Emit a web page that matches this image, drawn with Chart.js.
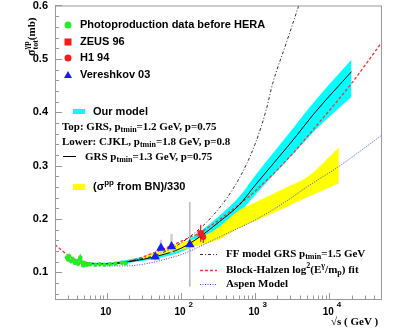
<!DOCTYPE html>
<html>
<head>
<meta charset="utf-8">
<script src="https://cdn.jsdelivr.net/npm/chart.js@4/dist/chart.umd.min.js"></script>
<style>html,body{margin:0;padding:0;background:#fff}</style>
</head>
<body>
<canvas id="c" width="415" height="332"></canvas>
<script>
// values: sqrt(s) in GeV, sigma in mb

// photoproduction data before HERA
const greenS   = [2.9, 3.0, 3.1, 3.3, 3.5, 3.7, 3.9, 4.1, 4.3, 4.4, 4.6, 4.8, 5.0, 5.3, 5.6, 6.0, 7.0, 8.0, 9.3, 11, 13, 16, 18];
const greenSig = [0.128, 0.124, 0.130, 0.121, 0.124, 0.118, 0.120, 0.116, 0.124, 0.128, 0.119, 0.113, 0.117, 0.114, 0.115, 0.115, 0.114, 0.115, 0.114, 0.115, 0.116, 0.118, 0.117];
const greenErr = [0.006, 0.005, 0.006, 0.005, 0.006, 0.004, 0.005, 0.005, 0.008, 0.007, 0.006, 0.004, 0.005, 0.004, 0.003, 0.003, 0.002, 0.002, 0.002, 0.002, 0.002, 0.003, 0.002];

// ZEUS 96, H1 94
const zeusS = [185], zeusSig = [0.173], zeusErr = [0.016];
const h1S = [200], h1Sig = [0.166], h1Err = [0.011];

// Vereshkov 03
const vereS   = [45, 53.7, 74.7, 132];
const vereSig = [0.129, 0.1456, 0.1486, 0.152];
const vereLo  = [0.122, 0.134, 0.136, 0.073];
const vereHi  = [0.138, 0.161, 0.172, 0.232];

// our model band and GRS ptmin=1.3 line
const modelS   = [5, 7, 10, 20, 50, 100, 195, 330, 614, 1000, 3000, 6670, 20000];
const modelLo  = [0.116, 0.114, 0.114, 0.118, 0.127, 0.138, 0.160, 0.184, 0.212, 0.245, 0.316, 0.368, 0.429];
const modelHi  = [0.119, 0.118, 0.118, 0.124, 0.136, 0.152, 0.180, 0.206, 0.242, 0.281, 0.364, 0.424, 0.499];
const grsSig   = [0.1176, 0.116, 0.116, 0.120, 0.131, 0.145, 0.170, 0.195, 0.2265, 0.263, 0.342, 0.402, 0.476];

// sigma(pp) from BN / 330
const bnS  = [30, 40, 60, 100, 195, 330, 614, 1000, 2625, 5130, 13500];
const bnLo = [0.124, 0.128, 0.133, 0.142, 0.152, 0.162, 0.183, 0.196, 0.222, 0.241, 0.267];
const bnHi = [0.128, 0.136, 0.144, 0.156, 0.167, 0.186, 0.217, 0.231, 0.259, 0.279, 0.334];

// FF model GRS ptmin=1.5
const ffS   = [5, 10, 20, 50, 100, 265, 577, 1000, 1410, 1730, 2625, 3880, 4500];
const ffSig = [0.1176, 0.116, 0.121, 0.134, 0.155, 0.205, 0.270, 0.340, 0.404, 0.454, 0.529, 0.600, 0.630];

// Block-Halzen log^2 fit
const bhS   = [2, 3, 4, 5, 7, 10, 20, 50, 100, 200, 500, 1000, 3000, 6670, 20000, 50000];
const bhSig = [0.152, 0.132, 0.123, 0.119, 0.116, 0.116, 0.121, 0.140, 0.158, 0.178, 0.218, 0.252, 0.318, 0.374, 0.454, 0.529];

// Aspen model
const aspenS   = [10, 18, 40, 76, 100, 160, 265, 450, 1000, 2625, 5000, 12400, 25000, 50000];
const aspenSig = [0.112, 0.112, 0.118, 0.128, 0.133, 0.145, 0.160, 0.175, 0.198, 0.233, 0.260, 0.295, 0.325, 0.356];

// axis ticks
const yMajor = [0.1, 0.2, 0.3, 0.4, 0.5, 0.6];
const yLabels = ["0.1", "0.2", "0.3", "0.4", "0.5", "0.6"];
const xMajor = [10, 100, 1000, 10000];
const xExp = ["", "2", "3", "4"];

const SANS = '"Liberation Sans", Arial, Helvetica, sans-serif';
const SERIF = '"Liberation Serif", "Times New Roman", serif';

function xy(xs, ys) {
  return xs.map((x, i) => ({ x: x, y: ys[i] }));
}

// text with sub/superscripts, parts = [text, kind] kind n / b (sub) / p (sup)
function rich(c, x, y, parts, size, fam) {
  parts.forEach(([t, k]) => {
    const sz = k === "n" ? size : Math.round(size * 0.72);
    const dy = k === "b" ? size * 0.3 : (k === "p" ? -size * 0.38 : 0);
    c.font = "bold " + sz + "px " + fam;
    c.fillText(t, x, y + dy);
    x += c.measureText(t).width;
  });
  return x;
}

const errorBars = {
  id: "errorBars",
  beforeDatasetDraw(chart, args) {
    const eb = chart.data.datasets[args.index].errBars;
    if (!eb) return;
    const xs = chart.scales.x, ys = chart.scales.y, c = chart.ctx;
    c.save();
    eb.s.forEach((s, i) => {
      const px = xs.getPixelForValue(s);
      c.strokeStyle = eb.color[i] || eb.color[0];
      c.lineWidth = eb.width[i] || eb.width[0];
      c.beginPath();
      c.moveTo(px, ys.getPixelForValue(eb.lo[i]));
      c.lineTo(px, ys.getPixelForValue(eb.hi[i]));
      c.stroke();
    });
    c.restore();
  }
};

const frame = {
  id: "frame",
  afterDraw(chart) {
    const c = chart.ctx, a = chart.chartArea;
    const xs = chart.scales.x, ys = chart.scales.y;
    c.save();
    c.strokeStyle = "#999";
    c.lineWidth = 1;
    c.strokeRect(a.left + 0.5, a.top + 0.5, a.right - a.left, a.bottom - a.top);

    // y ticks inside the frame
    c.beginPath();
    for (let v = 0.06; v < 0.601; v += 0.02) {
      const py = Math.round(ys.getPixelForValue(v)) + 0.5;
      const major = Math.abs(v * 10 - Math.round(v * 10)) < 1e-6;
      c.moveTo(a.left, py);
      c.lineTo(a.left + (major ? 7 : 4), py);
    }
    // x ticks
    for (let d = 1; d <= 10000; d *= 10) {
      for (let k = 1; k <= 9; k++) {
        const v = k * d;
        if (v < 2 || v > 50000) continue;
        const px = Math.round(xs.getPixelForValue(v)) + 0.5;
        c.moveTo(px, a.bottom);
        c.lineTo(px, a.bottom - (k === 1 ? 6 : 3.5));
      }
    }
    c.stroke();

    c.fillStyle = "#000";
    c.textBaseline = "middle";
    c.textAlign = "right";
    c.font = "bold 11px " + SANS;
    yMajor.forEach((v, i) => c.fillText(yLabels[i], 48, ys.getPixelForValue(v)));

    c.textAlign = "left";
    xMajor.forEach((v, i) => {
      const px = xs.getPixelForValue(v);
      c.font = "bold 10px " + SANS;
      const w = c.measureText("10").width;
      c.fillText("10", px - w / 2 - 1, 312);
      if (xExp[i]) {
        c.font = "bold 8px " + SANS;
        c.fillText(xExp[i], px + w / 2 + 2, 305);
      }
    });

    // axis titles
    c.font = "bold 11px " + SERIF;
    c.fillText("\u221As ( GeV )", 331, 322);

    c.save();
    c.translate(32, 56);
    c.rotate(-Math.PI / 2);
    c.font = "bold 12px " + SERIF;
    c.fillText("\u03C3", 0, 0);
    let tx = c.measureText("\u03C3").width;
    c.font = "bold 8px " + SERIF;
    c.fillText("tot", tx, 4);
    c.fillText("\u03B3p", tx, -5);
    tx += c.measureText("tot").width;
    c.font = "bold 11px " + SERIF;
    c.fillText("(mb)", tx, 0);
    c.restore();

    // legend, data markers
    c.fillStyle = "#22ee22";
    c.beginPath(); c.arc(68, 25, 3.5, 0, 2 * Math.PI); c.fill();
    c.fillStyle = "#ff1a1a";
    c.fillRect(64.5, 38.5, 7, 7);
    c.beginPath(); c.arc(68, 58, 3.5, 0, 2 * Math.PI); c.fill();
    c.fillStyle = "#1a1aff";
    c.beginPath(); c.moveTo(68, 71); c.lineTo(72, 78); c.lineTo(64, 78); c.closePath(); c.fill();

    c.fillStyle = "#000";
    c.font = "bold 11px " + SANS;
    c.fillText("Photoproduction data before HERA", 80, 25);
    c.fillText("ZEUS 96", 80, 42);
    c.fillText("H1 94", 80, 58);
    c.fillText("Vereshkov 03", 80, 75);

    // model legend
    c.fillStyle = "#00ffff";
    c.fillRect(73, 109, 12, 5);
    c.fillStyle = "#000";
    c.font = "bold 11px " + SANS;
    c.fillText("Our model", 93, 111.5);
    rich(c, 62, 127, [["Top: GRS, p", "n"], ["tmin", "b"], ["=1.2 GeV, p=0.75", "n"]], 11, SERIF);
    rich(c, 62, 142, [["Lower: CJKL, p", "n"], ["tmin", "b"], ["=1.8 GeV, p=0.8", "n"]], 11, SERIF);
    c.strokeStyle = "#000";
    c.beginPath(); c.moveTo(63, 156.5); c.lineTo(76, 156.5); c.stroke();
    rich(c, 85, 157, [["GRS p", "n"], ["tmin", "b"], ["=1.3 GeV, p=0.75", "n"]], 11, SERIF);

    c.fillStyle = "#ffff00";
    c.fillRect(73, 184, 12, 6);
    c.fillStyle = "#000";
    rich(c, 93, 187, [["(\u03C3", "n"], ["pp", "p"], [" from BN)/330", "n"]], 11, SANS);

    // curve legend
    const rows = [
      { y: 254, color: "#333", dash: [3, 2, 1, 2], w: 1 },
      { y: 270, color: "#ff3333", dash: [3, 2], w: 1.3 },
      { y: 284, color: "#3344ff", dash: [1, 1.5], w: 1 }
    ];
    rows.forEach(r => {
      c.strokeStyle = r.color; c.lineWidth = r.w; c.setLineDash(r.dash);
      c.beginPath(); c.moveTo(200, r.y + 0.5); c.lineTo(217, r.y + 0.5); c.stroke();
    });
    c.setLineDash([]);
    rich(c, 226, 254, [["FF model GRS p", "n"], ["tmin", "b"], ["=1.5 GeV", "n"]], 11, SERIF);
    rich(c, 226, 270, [["Block-Halzen log", "n"], ["2", "p"], ["(E", "n"], ["\u03B3", "p"], ["/m", "n"], ["p", "b"], [") fit", "n"]], 11, SERIF);
    rich(c, 226, 284, [["Aspen Model", "n"]], 11, SERIF);
    c.restore();
  }
};

const curve = (data, color, dash, width, order) => ({
  data: data, borderColor: color, borderDash: dash, borderWidth: width,
  pointRadius: 0, fill: false, cubicInterpolationMode: "monotone", order: order
});
const edge = (data, order) => ({
  data: data, borderColor: "rgba(0,0,0,0)", borderWidth: 0, pointRadius: 0,
  fill: false, cubicInterpolationMode: "monotone", order: order
});

const datasets = [
  edge(xy(modelS, modelLo), 5),
  Object.assign(edge(xy(modelS, modelHi), 5), { fill: "-1", backgroundColor: "#00ffff" }),
  edge(xy(bnS, bnLo), 4),
  Object.assign(edge(xy(bnS, bnHi), 4), { fill: "-1", backgroundColor: "#ffff00" }),
  curve(xy(aspenS, aspenSig), "#3344ff", [1, 1.5], 1, 3),
  curve(xy(ffS, ffSig), "#333", [3, 2, 1, 2], 1, 3),
  curve(xy(bhS, bhSig), "#ff3333", [3, 2], 1.3, 3),
  curve(xy(modelS, grsSig), "#000", [], 1, 2),
  {
    data: xy(greenS, greenSig), showLine: false, pointRadius: 2.2, pointStyle: "circle",
    backgroundColor: "#22ee22", borderWidth: 0, order: 1,
    errBars: { s: greenS, lo: greenSig.map((v, i) => v - greenErr[i]), hi: greenSig.map((v, i) => v + greenErr[i]), color: ["#77dd77"], width: [1] }
  },
  {
    data: xy(vereS, vereSig), showLine: false, pointRadius: 5.5, pointStyle: "triangle",
    backgroundColor: "#1a1aff", borderWidth: 0, order: 1,
    errBars: { s: vereS, lo: vereLo, hi: vereHi, color: ["#d0d0d0", "#d0d0d0", "#d0d0d0", "#999"], width: [2.5, 2.5, 2.5, 1] }
  },
  {
    data: xy(zeusS, zeusSig), showLine: false, pointRadius: 4.5, pointStyle: "rect",
    backgroundColor: "#ff1a1a", borderWidth: 0, order: 0,
    errBars: { s: zeusS, lo: zeusSig.map((v, i) => v - zeusErr[i]), hi: zeusSig.map((v, i) => v + zeusErr[i]), color: ["#cc0000"], width: [1] }
  },
  {
    data: xy(h1S, h1Sig), showLine: false, pointRadius: 3, pointStyle: "circle",
    backgroundColor: "#ff1a1a", borderWidth: 0, order: 0,
    errBars: { s: h1S, lo: h1Sig.map((v, i) => v - h1Err[i]), hi: h1Sig.map((v, i) => v + h1Err[i]), color: ["#cc0000"], width: [1] }
  }
];

new Chart(document.getElementById("c").getContext("2d"), {
  type: "line",
  data: { datasets: datasets },
  options: {
    responsive: false,
    animation: false,
    devicePixelRatio: 1,
    layout: { padding: { top: 5, right: 34, left: 0, bottom: 0 } },
    plugins: { legend: { display: false }, tooltip: { enabled: false } },
    scales: {
      x: {
        type: "logarithmic", min: 2, max: 50000,
        grid: { display: false }, border: { display: false }, ticks: { display: false },
        afterFit: s => { s.height = 33; }
      },
      y: {
        type: "linear", min: 0.05, max: 0.6,
        grid: { display: false }, border: { display: false }, ticks: { display: false },
        afterFit: s => { s.width = 55; }
      }
    }
  },
  plugins: [errorBars, frame]
});
</script>
</body>
</html>
